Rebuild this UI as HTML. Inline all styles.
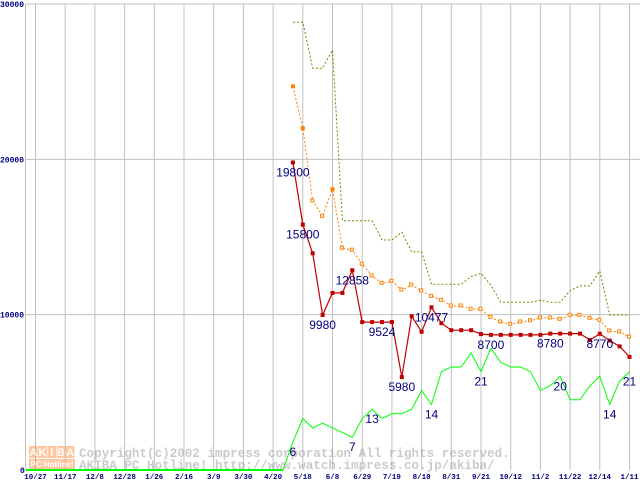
<!DOCTYPE html>
<html><head><meta charset="utf-8"><style>
html,body{margin:0;padding:0;background:#fff;}
svg{display:block;}
</style></head><body>
<svg id="chart" width="640" height="480" xmlns="http://www.w3.org/2000/svg"></svg>
<script>
const xLabels=["10/27","11/17","12/8","12/28","1/26","2/16","3/9","3/30","4/20","5/18","6/8","6/29","7/19","8/10","8/31","9/21","10/12","11/2","11/22","12/14","1/11"];
const yTicks=[0,10000,20000,30000];
const startIdx=26;
const minPrice=[19800,15800,13950,9980,11400,11400,12858,9524,9524,9524,9524,5980,9900,8900,10477,9450,9000,9000,9000,8750,8700,8700,8700,8700,8700,8700,8780,8780,8780,8780,8370,8770,8330,7960,7280];
const avgPrice=[24700,22000,17320,16330,18070,14280,14150,13250,12490,12020,12150,11590,11910,11530,11180,10930,10560,10560,10350,10350,9830,9530,9380,9530,9610,9790,9790,9700,9960,9960,9770,9640,8950,8890,8560];
const maxPrice=[28830,28830,25870,25870,27040,16050,16050,16050,16050,14810,14810,15300,14040,14040,11960,11960,11960,11960,12450,12670,11900,10800,10800,10800,10800,10930,10800,10800,11550,11850,11850,12810,9980,9980,9980];
const shopCount=[6,11,9,10,9,8,7,11,13,11,12,12,13,17,14,21,22,22,25,21,26,23,22,22,21,17,18,20,15,15,18,20,14,19,21];
const minLabelIdx=[0,1,3,6,9,11,14,20,26,31];
const countLabelIdx=[0,6,8,14,19,27,32,34];
const avgHollow=[2,3,5,6,7,8,9,10,11,12,13,14,15,16,17,18,19,20,21,22,23,24,25,26,27,28,29,30,31,32,33,34];

const NS="http://www.w3.org/2000/svg";
const svg=document.getElementById('chart');
const X0=35.5,GRID=29.7,WEEK=GRID/3;
function xw(i){return X0+i*WEEK;}
function yp(v){return 470-v*0.015533;}
function yc(v){return 470-v*4.68;}
function el(t,a,p){const e=document.createElementNS(NS,t);for(const k in a)e.setAttribute(k,a[k]);(p||svg).appendChild(e);return e;}

const g=el('g',{});


el('line',{x1:25.5,y1:4,x2:25.5,y2:470,stroke:'#c0c0c0','stroke-width':1},g);
xLabels.forEach((l,i)=>{el('line',{x1:X0+i*GRID,y1:4,x2:X0+i*GRID,y2:470,stroke:'#c0c0c0','stroke-width':1},g);});
yTicks.forEach(v=>{if(v>0)el('line',{x1:25.5,y1:yp(v),x2:640,y2:yp(v),stroke:'#c0c0c0','stroke-width':1},g);});

yTicks.forEach(v=>{
  const t=el('text',{x:v===0?20:0,y:yp(v)+3,'font-family':'Liberation Mono, monospace','font-size':8,'font-weight':'bold',fill:'#000080'});
  t.textContent=String(v);
  
  
});
xLabels.forEach((l,i)=>{
  const t=el('text',{x:X0+i*GRID,y:479,'text-anchor':'middle','font-family':'Liberation Mono, monospace','font-size':7.5,'font-weight':'bold',fill:'#000080'});
  t.textContent=l;
  
  
});

const wm=el('g',{opacity:0.55});


"AKIBA".split('').forEach((c,i)=>{
  el('rect',{x:29+i*9.2,y:446,width:8.6,height:12,fill:'#ff9955'},wm);
  const t=el('text',{x:33.3+i*9.2,y:456,'text-anchor':'middle','font-family':'Liberation Sans, sans-serif','font-size':11,'font-weight':'bold',fill:'#fff'},wm);t.textContent=c;
});
el('rect',{x:29,y:459,width:46,height:10,fill:'#ff9955'},wm);
const ph=el('text',{x:52,y:467,'text-anchor':'middle','font-family':'Liberation Sans, sans-serif','font-size':8,'font-weight':'bold',fill:'#fff'},wm);ph.textContent='PC Hotline!';
const c1=el('text',{x:79,y:457,'font-family':'Liberation Mono, monospace','font-size':12.6,'font-weight':'bold',fill:'#a0a0a0'},wm);c1.textContent='Copyright(c)2002 impress corporation All rights reserved.';
const c2=el('text',{x:79,y:469,'font-family':'Liberation Mono, monospace','font-size':12.6,'font-weight':'bold',fill:'#a0a0a0'},wm);c2.textContent='AKIBA PC Hotline!  http://www.watch.impress.co.jp/akiba/';

function pts(arr,f){return arr.map((v,k)=>xw(startIdx+k).toFixed(1)+','+f(v).toFixed(1)).join(' ');}

const mx=el('polyline',{points:pts(maxPrice,yp),fill:'none',stroke:'#808000','stroke-width':1,'stroke-dasharray':'2,2'});



const av=el('polyline',{points:pts(avgPrice,yp),fill:'none',stroke:'#ff8000','stroke-width':1,'stroke-dasharray':'2,2'});


avgPrice.forEach((v,k)=>{
  const hollow=avgHollow.indexOf(k)>=0;
  const r=el('rect',{x:xw(startIdx+k)-2,y:yp(v)-2,width:hollow?3:4,height:hollow?3:4,fill:hollow?'#fff':'#ff8000',stroke:hollow?'#ff8000':'none','stroke-width':1});
  
  
});

const zero=el('line',{x1:26,y1:470,x2:xw(25),y2:470,stroke:'#00ff00','stroke-width':2});


const cl=el('polyline',{points:xw(25).toFixed(1)+','+yc(0)+' '+pts(shopCount,yc),fill:'none',stroke:'#00ff00','stroke-width':1});



const mn=el('polyline',{points:pts(minPrice,yp),fill:'none',stroke:'#c00000','stroke-width':1.2});


minPrice.forEach((v,k)=>{
  const r=el('rect',{x:xw(startIdx+k)-2,y:yp(v)-2,width:4,height:4,fill:'#c00000'});
  
  
});

function lab(x,y,txt,name){
  const t=el('text',{x:x,y:y+14,'text-anchor':'middle','font-family':'Liberation Sans, sans-serif','font-size':12,fill:'#000080'});
  t.textContent=txt;
  
  
}
minLabelIdx.forEach(k=>lab(xw(startIdx+k),yp(minPrice[k]),String(minPrice[k]),'min-price-label'));
countLabelIdx.forEach(k=>lab(xw(startIdx+k),yc(shopCount[k]),String(shopCount[k]),'shop-count-label'));
</script>
</body></html>
